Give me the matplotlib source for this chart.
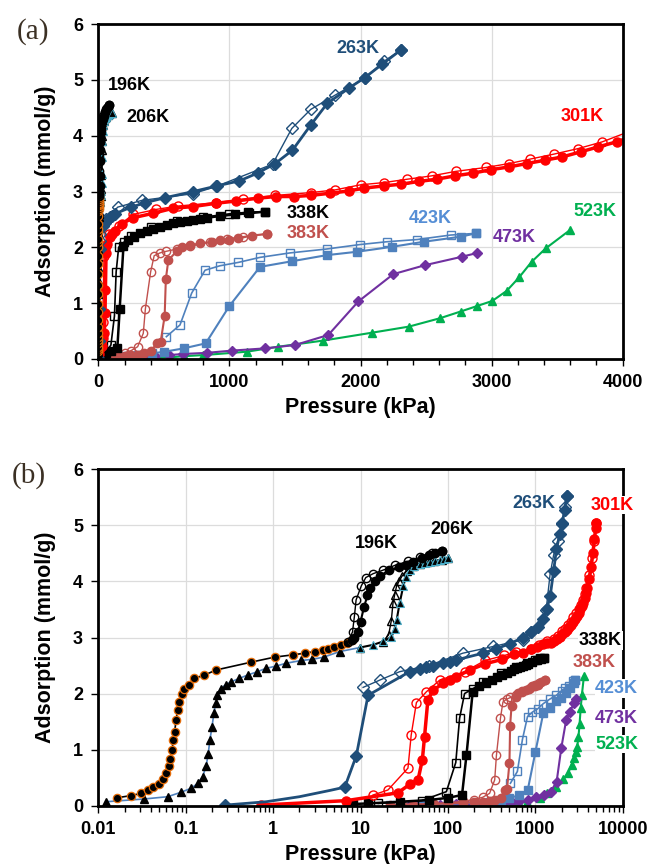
import numpy as np
import matplotlib
matplotlib.use("Agg")
import matplotlib.pyplot as plt
from matplotlib.ticker import MultipleLocator, FixedLocator, NullFormatter, LogLocator

plt.rcParams['font.family'] = ['Liberation Sans', 'DejaVu Sans']
plt.rcParams['font.weight'] = 'bold'

# ---- data (P in kPa, uptake in mmol/g) ----
# 196K: low-pressure branch, adsorption, desorption
p196_lo = [0.0162, 0.0237, 0.0309, 0.0367, 0.0427, 0.050, 0.0555, 0.0596, 0.0638, 0.0667, 0.0697,
           0.0722, 0.0748, 0.0775, 0.081, 0.0846, 0.0908, 0.0965, 0.108, 0.125, 0.164, 0.222,
           0.56, 1.04, 1.67, 2.3, 3.0, 3.7, 4.2, 5.0, 6.0, 7.0, 7.9]
a196_lo = [0.14, 0.18, 0.22, 0.28, 0.34, 0.39, 0.47, 0.58, 0.70, 0.84, 0.99,
           1.17, 1.32, 1.53, 1.71, 1.85, 2.00, 2.09, 2.15, 2.27, 2.33, 2.42,
           2.56, 2.65, 2.69, 2.72, 2.75, 2.78, 2.80, 2.83, 2.87, 2.91, 2.95]
p196_ads = [7.9, 8.5, 9.3, 10.0, 11.0, 12.0, 12.8, 14.5, 16.7, 21.3, 27.5, 33, 40, 50, 60, 72, 85]
a196_ads = [2.95, 3.00, 3.10, 3.28, 3.55, 3.75, 3.88, 4.00, 4.10, 4.20, 4.26, 4.30, 4.35, 4.42, 4.47, 4.51, 4.55]
p196_des = [85, 65, 48, 35, 25, 18, 14, 11.5, 10.2, 8.9, 8.5, 8.1, 7.2]
a196_des = [4.55, 4.50, 4.43, 4.36, 4.29, 4.20, 4.14, 4.07, 3.92, 3.67, 3.37, 3.10, 2.92]

# 206K
p206_lo = [0.0122, 0.0337, 0.0622, 0.0885, 0.115, 0.138, 0.156, 0.171, 0.181, 0.189, 0.20, 0.21,
           0.22, 0.23, 0.25, 0.29, 0.33, 0.41, 0.51, 0.66, 0.83, 1.08, 1.40, 2.1, 2.8, 3.8, 5.8, 9.8]
a206_lo = [0.07, 0.12, 0.16, 0.24, 0.31, 0.40, 0.52, 0.70, 0.93, 1.17, 1.41, 1.65,
           1.83, 1.97, 2.09, 2.16, 2.21, 2.27, 2.33, 2.39, 2.45, 2.49, 2.54, 2.59, 2.61, 2.65, 2.75, 2.82]
p206_ads = [9.8, 14, 18.2, 22.6, 24.5, 25.9, 28, 30.8, 33, 36.7, 41, 47.8, 55, 62, 71, 81, 90, 101]
a206_ads = [2.82, 2.87, 2.93, 3.01, 3.15, 3.31, 3.61, 3.91, 4.08, 4.20, 4.27, 4.31, 4.33, 4.35, 4.37, 4.38, 4.40, 4.41]
p206_des = [101, 85, 70, 58, 48, 40, 34, 30, 27.5, 25.8, 24.5, 23.5, 22.5, 21, 18]
a206_des = [4.41, 4.39, 4.37, 4.34, 4.31, 4.27, 4.19, 4.10, 4.00, 3.91, 3.75, 3.61, 3.30, 3.05, 2.92]

# 263K
p263_ads = [0.28, 0.83, 2.0, 4.4, 6.6, 8.95, 12.2, 36.5, 47.5, 56.6, 67.6, 88, 105, 125, 251, 359, 511,
            725, 904, 1076, 1215, 1349, 1481, 1620, 1747, 1911, 2033, 2165, 2305]
a263_ads = [0.01, 0.07, 0.16, 0.27, 0.33, 0.89, 1.97, 2.39, 2.43, 2.47, 2.49, 2.54, 2.57, 2.60, 2.72, 2.80, 2.89,
            3.00, 3.10, 3.19, 3.33, 3.50, 3.74, 4.19, 4.58, 4.85, 5.04, 5.28, 5.53]
m263 = [0] + list(range(4, len(p263_ads)))  # points with a marker (rest is the smoothed line)
p263_des = [10.7, 16.6, 28, 60, 148, 330, 722, 899, 1329, 1476, 1620, 1809, 2033, 2178, 2305]
a263_des = [2.11, 2.24, 2.39, 2.50, 2.72, 2.84, 2.96, 3.09, 3.49, 4.13, 4.47, 4.73, 5.03, 5.33, 5.53]

# 301K
p301_ads = [0.72, 6.9, 26.8, 36.5, 45.5, 51, 54, 59, 67.6, 88, 105, 125, 178, 266, 418, 570, 722, 899, 1051,
            1215, 1354, 1494, 1620, 1771, 1911, 2025, 2178, 2305, 2445, 2580, 2720, 2860, 2992, 3132,
            3267, 3405, 3540, 3679, 3814, 3954, 4150, 4350, 4550, 4750, 4900, 4955]
a301_ads = [0.01, 0.09, 0.23, 0.38, 0.46, 0.82, 1.23, 1.89, 2.06, 2.18, 2.24, 2.30, 2.42, 2.53, 2.61, 2.70, 2.73,
            2.79, 2.83, 2.88, 2.91, 2.91, 2.93, 2.97, 3.01, 3.06, 3.10, 3.13, 3.18, 3.22, 3.28, 3.33, 3.39,
            3.44, 3.50, 3.56, 3.62, 3.71, 3.80, 3.89, 4.05, 4.25, 4.50, 4.75, 4.95, 5.04]
p301_des = [4955, 4700, 4400, 4100, 3845, 3662, 3476, 3293, 3132, 2954, 2725, 2542, 2356, 2178, 2000, 1809,
            1620, 1350, 1100, 900, 608, 443, 266, 155, 80.5, 56.6, 43.6, 38, 34.9, 20.6, 13.9]
a301_des = [5.04, 4.72, 4.42, 4.12, 3.89, 3.77, 3.67, 3.58, 3.50, 3.43, 3.36, 3.28, 3.22, 3.16, 3.12, 3.03,
            2.98, 2.93, 2.86, 2.80, 2.74, 2.68, 2.59, 2.39, 2.24, 2.03, 1.84, 1.26, 0.67, 0.28, 0.19]

# 338K
p338_ads = [8.2, 12.2, 28, 60, 100, 145, 163, 192, 229, 275, 318, 369, 420, 471, 522, 573, 623, 674,
            725, 776, 826, 928, 1043, 1150, 1272]
a338_ads = [0.03, 0.04, 0.07, 0.10, 0.14, 0.19, 0.90, 2.03, 2.13, 2.19, 2.25, 2.30, 2.33, 2.36, 2.40, 2.43,
            2.45, 2.48, 2.49, 2.51, 2.53, 2.56, 2.59, 2.61, 2.64]
p338_des = [1272, 1144, 1000, 800, 600, 400, 250, 195, 155, 136, 123, 96, 50, 16]
a338_des = [2.64, 2.63, 2.60, 2.54, 2.47, 2.36, 2.20, 2.09, 2.00, 1.56, 0.77, 0.25, 0.09, 0.04]

# 383K
p383_ads = [22, 40, 70, 100, 150, 200, 250, 300, 350, 400, 447, 475, 506, 515, 534, 598, 636, 700,
            776, 865, 928, 1000, 1068, 1170, 1285]
a383_ads = [0.01, 0.02, 0.03, 0.04, 0.05, 0.06, 0.07, 0.08, 0.10, 0.14, 0.28, 0.30, 0.77, 1.43, 1.77, 1.93,
            2.01, 2.04, 2.07, 2.10, 2.13, 2.14, 2.16, 2.21, 2.24]
p383_des = [1285, 1100, 979, 850, 700, 600, 520, 470, 426, 399, 359, 343, 300, 250, 200, 150, 100, 60, 30]
a383_des = [2.24, 2.19, 2.15, 2.09, 2.02, 1.97, 1.93, 1.90, 1.85, 1.56, 0.90, 0.46, 0.22, 0.15, 0.11, 0.08,
            0.05, 0.03, 0.02]

# 423K
p423_ads = [22, 50, 100, 200, 300, 407, 504, 651, 819, 1000, 1233, 1475, 1742, 1971, 2242, 2483, 2763, 2878]
a423_ads = [0.01, 0.02, 0.03, 0.05, 0.07, 0.10, 0.13, 0.19, 0.28, 0.95, 1.65, 1.75, 1.86, 1.92, 2.01, 2.10,
            2.19, 2.25]
p423_des = [2878, 2687, 2433, 2200, 1996, 1742, 1462, 1233, 1068, 928, 814, 712, 623, 519]
a423_des = [2.25, 2.22, 2.14, 2.10, 2.05, 1.97, 1.90, 1.82, 1.73, 1.67, 1.59, 1.18, 0.61, 0.40]

# 473K
p473 = [36.7, 45, 55, 68, 82, 100, 125, 160, 200, 260, 340, 430, 540, 648, 827, 1018, 1271, 1500, 1754,
        1983, 2250, 2491, 2771, 2891]
a473 = [0.01, 0.01, 0.01, 0.02, 0.02, 0.02, 0.03, 0.03, 0.04, 0.04, 0.05, 0.05, 0.07, 0.09, 0.11, 0.15, 0.19,
        0.25, 0.43, 1.03, 1.52, 1.68, 1.83, 1.90]

# 523K
p523 = [125, 160, 200, 260, 356, 450, 550, 650, 801, 1132, 1373, 1716, 2085, 2369, 2606, 2763, 2891, 3005,
        3115, 3209, 3305, 3412, 3598]
a523 = [0.0, 0.0, 0.0, 0.01, 0.01, 0.02, 0.03, 0.05, 0.07, 0.13, 0.22, 0.33, 0.47, 0.58, 0.73, 0.85, 0.95,
        1.04, 1.22, 1.46, 1.74, 1.98, 2.31]

c263 = '#1F4E79'
c301 = '#FF0000'
c383 = '#C0504D'
c423 = '#4F81BD'
c473 = '#7030A0'
c523 = '#00B050'


def draw(ax):
    ax.plot(p523, a523, '-^', color=c523, lw=1.5, ms=6)
    ax.plot(p473, a473, '-D', color=c473, lw=1.5, ms=5.5)
    ax.plot(p423_des, a423_des, '-s', color=c423, lw=1.2, ms=5.5, mfc='none')
    ax.plot(p423_ads, a423_ads, '-s', color=c423, lw=1.5, ms=5.5)
    ax.plot(p383_des, a383_des, '-o', color=c383, lw=1.0, ms=6, mfc='none')
    ax.plot(p383_ads, a383_ads, '-o', color=c383, lw=1.5, ms=6)
    ax.plot(p338_des, a338_des, '-s', color='black', lw=1.2, ms=5.5, mfc='none')
    ax.plot(p338_ads, a338_ads, '-s', color='black', lw=1.8, ms=5.5)
    ax.plot(p301_des, a301_des, '-o', color=c301, lw=1.0, ms=6.5, mfc='none')
    ax.plot(p301_ads, a301_ads, '-o', color=c301, lw=2.5, ms=6.5)
    ax.plot(p263_des, a263_des, '-D', color=c263, lw=1.0, ms=6, mfc='none')
    ax.plot(p263_ads, a263_ads, '-D', color=c263, lw=2.0, ms=6, markevery=m263)
    ax.plot(p206_lo, a206_lo, '-^', color=c423, lw=1.2, ms=6, mfc='black', mec='black')
    ax.plot(p206_des, a206_des, '-^', color='black', lw=1.0, ms=6, mfc='none', mec='black')
    ax.plot(p206_ads, a206_ads, '-^', color='black', lw=1.5, ms=6, mfc='black', mec='#4BACC6', mew=0.8)
    ax.plot(p196_lo, a196_lo, '-o', color='black', lw=1.2, ms=6, mfc='black', mec='#E46C0A', mew=0.9)
    ax.plot(p196_des, a196_des, '-o', color='black', lw=1.0, ms=6, mfc='none', mec='black')
    ax.plot(p196_ads, a196_ads, '-o', color='black', lw=1.5, ms=6, mfc='black', mec='black')

    ax.set_ylim(0, 6)
    ax.yaxis.set_major_locator(MultipleLocator(1))
    ax.grid(True, which='major', color='#dcdcdc', lw=0.9)
    ax.set_axisbelow(True)
    for s in ax.spines.values():
        s.set_linewidth(2.0)
    ax.tick_params(which='major', direction='out', length=5, width=1, labelsize=13, pad=6)
    ax.tick_params(which='minor', direction='out', length=4, width=1)
    ax.set_ylabel('Adsorption (mmol/g)', fontsize=15.5, fontweight='bold', labelpad=12)
    ax.set_xlabel('Pressure (kPa)', fontsize=15.5, fontweight='bold', labelpad=4)
    for lab in ax.get_xticklabels() + ax.get_yticklabels():
        lab.set_fontweight('bold')


fig = plt.figure(figsize=(6.49, 8.64), dpi=100)
ax1 = fig.add_axes([0.1515, 0.5845, 0.808, 0.3877])
ax2 = fig.add_axes([0.1515, 0.0675, 0.808, 0.3893])

# (a) linear
draw(ax1)
ax1.set_xlim(0, 4000)
ax1.xaxis.set_major_locator(MultipleLocator(1000))
ax1.xaxis.set_minor_locator(MultipleLocator(200))

lab_a = [('196K', 234, 4.89, 'black'), ('206K', 375, 4.33, 'black'), ('263K', 1977, 5.57, c263),
         ('301K', 3692, 4.35, c301), ('338K', 1600, 2.61, 'black'), ('383K', 1600, 2.25, c383),
         ('423K', 2530, 2.52, '#558ED5'), ('473K', 3173, 2.18, c473), ('523K', 3791, 2.64, c523)]
for t, x, y, c in lab_a:
    ax1.text(x, y, t, color=c, fontsize=13, fontweight='bold', ha='center', va='center', zorder=6)

# (b) log
draw(ax2)
ax2.set_xscale('log')
ax2.set_xlim(0.01, 10000)
ax2.xaxis.set_major_locator(LogLocator(base=10, numticks=10))
ax2.xaxis.set_minor_locator(LogLocator(base=10, subs=np.arange(2, 10), numticks=20))
ax2.xaxis.set_minor_formatter(NullFormatter())
ax2.set_xticks([0.01, 0.1, 1, 10, 100, 1000, 10000])
ax2.set_xticklabels(['0.01', '0.1', '1', '10', '100', '1000', '10000'], fontweight='bold')

lab_b = [('196K', 15.0, 4.68, 'black', False), ('206K', 111, 4.93, 'black', False),
         ('263K', 955, 5.39, c263, False), ('301K', 7550, 5.36, c301, True),
         ('338K', 5540, 2.95, 'black', True), ('383K', 4700, 2.55, c383, True),
         ('423K', 8540, 2.09, '#558ED5', True), ('473K', 8540, 1.56, c473, True),
         ('523K', 8540, 1.10, c523, True)]
for t, x, y, c, box in lab_b:
    kw = dict(bbox=dict(facecolor='white', edgecolor='none', pad=0.5)) if box else {}
    ax2.text(x, y, t, color=c, fontsize=13, fontweight='bold', ha='center', va='center', zorder=6, **kw)

fig.text(0.051, 0.963, '(a)', family=['Liberation Serif', 'DejaVu Serif'], fontsize=21,
         fontweight='normal', color='#3b3024', ha='center', va='center')
fig.text(0.045, 0.450, '(b)', family=['Liberation Serif', 'DejaVu Serif'], fontsize=21,
         fontweight='normal', color='#3b3024', ha='center', va='center')

fig.savefig('out.png', dpi=100)
